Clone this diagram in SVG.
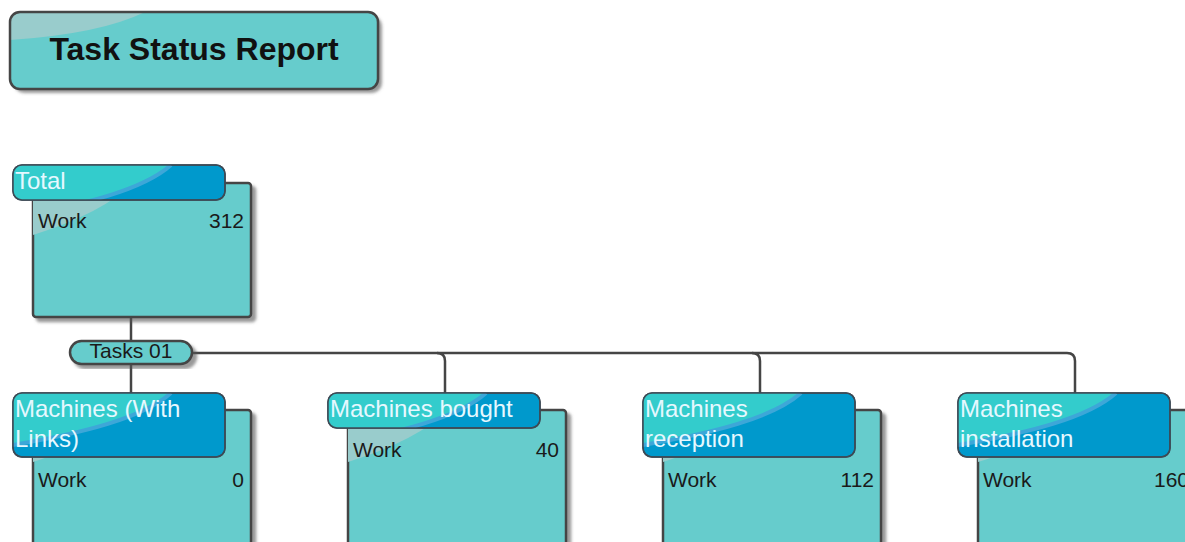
<svg xmlns="http://www.w3.org/2000/svg" width="1185" height="542" viewBox="0 0 1185 542">
  <defs>
    <filter id="shadow" x="-10%" y="-10%" width="130%" height="130%">
      <feDropShadow dx="4" dy="4" stdDeviation="1.5" flood-color="#555" flood-opacity="0.6"/>
    </filter>
    <clipPath id="titleClip"><rect x="0" y="0" width="368" height="77" rx="10"/></clipPath>
    <clipPath id="hdrShort"><rect x="0" y="0" width="212" height="35" rx="9"/></clipPath>
    <clipPath id="hdrTall"><rect x="0" y="0" width="212" height="64" rx="9"/></clipPath>
    <style>
      .body { fill: #66CCCC; stroke: #454545; stroke-width: 2.5; }
      .hdr { fill: #0099CC; stroke: #3d4a55; stroke-width: 1.5; }
      .hl { fill: #33CCCC; }
      .band { fill: none; stroke: #3da7d8; stroke-width: 4; }
      .gloss { fill: #99CCCC; }
      .htxt { font-family: "Liberation Sans", Arial, sans-serif; font-size: 24px; fill: #E6F8FF; }
      .btxt { font-family: "Liberation Sans", Arial, sans-serif; font-size: 21px; fill: #1a1a1a; }
      .conn { fill: none; stroke: #454545; stroke-width: 2.5; }
    </style>
  </defs>

  <!-- title banner -->
  <g id="title" transform="translate(10,12)">
    <rect x="0" y="0" width="368" height="77" rx="10" fill="#66CCCC" filter="url(#shadow)"/>
    <path d="M0,0 H135 Q90,22 0,28 Z" fill="#99CCCC" clip-path="url(#titleClip)"/>
    <rect x="0" y="0" width="368" height="77" rx="10" fill="none" stroke="#454545" stroke-width="2.5"/>
    <text x="184" y="48" text-anchor="middle" font-family="'Liberation Sans', Arial, sans-serif" font-size="32" font-weight="bold" fill="#111">Task Status Report</text>
  </g>

  <!-- connectors -->
  <g id="connectors">
    <path class="conn" d="M131,317 V341"/>
    <path class="conn" d="M131,364 V393"/>
    <path class="conn" d="M192,353 H437 Q445,353 445,361 V393"/>
    <path class="conn" d="M437,353 H752 Q760,353 760,361 V393"/>
    <path class="conn" d="M752,353 H1067 Q1075,353 1075,361 V393"/>
  </g>

  <!-- summary pill -->
  <g id="tasks01">
    <rect x="70" y="341" width="122" height="23" rx="11.5" fill="#66CCCC" stroke="#454545" stroke-width="2.5" filter="url(#shadow)"/>
    <text x="131" y="358" text-anchor="middle" class="btxt" font-size="20">Tasks 01</text>
  </g>

  <!-- Total -->
  <g id="total" transform="translate(13,165)">
    <rect class="body" x="20" y="18" width="218" height="134" rx="3" filter="url(#shadow)"/>
    <path class="gloss" d="M20,18 H120 Q90,48 20,70 Z"/>
    <rect class="hdr" x="0" y="0" width="212" height="35" rx="9"/>
    <g clip-path="url(#hdrShort)">
      <path class="hl" d="M0,0 H158 C130,25 70,40 0,52 Z"/>
      <path class="band" d="M158,0 C130,25 70,40 0,52"/>
    </g>
    <rect x="0" y="0" width="212" height="35" rx="9" fill="none" stroke="#3d4a55" stroke-width="1.5"/>
    <text class="htxt" x="2" y="24">Total</text>
    <text class="btxt" x="25" y="63">Work</text>
    <text class="btxt" x="231" y="63" text-anchor="end">312</text>
  </g>

  <!-- Machines (With Links) -->
  <g id="machines-links" transform="translate(13,393)">
    <rect class="body" x="20" y="17" width="218" height="160" rx="3" filter="url(#shadow)"/>
    <path class="gloss" d="M20,17 H120 Q90,47 20,69 Z"/>
    <rect class="hdr" x="0" y="0" width="212" height="64" rx="9"/>
    <g clip-path="url(#hdrTall)">
      <path class="hl" d="M0,0 H158 C130,25 70,40 0,52 Z"/>
      <path class="band" d="M158,0 C130,25 70,40 0,52"/>
    </g>
    <rect x="0" y="0" width="212" height="64" rx="9" fill="none" stroke="#3d4a55" stroke-width="1.5"/>
    <text class="htxt" x="2" y="24">Machines (With</text>
    <text class="htxt" x="2" y="54">Links)</text>
    <text class="btxt" x="25" y="94">Work</text>
    <text class="btxt" x="231" y="94" text-anchor="end">0</text>
  </g>

  <!-- Machines bought -->
  <g id="machines-bought" transform="translate(328,393)">
    <rect class="body" x="20" y="17" width="218" height="160" rx="3" filter="url(#shadow)"/>
    <path class="gloss" d="M20,17 H120 Q90,47 20,69 Z"/>
    <rect class="hdr" x="0" y="0" width="212" height="35" rx="9"/>
    <g clip-path="url(#hdrShort)">
      <path class="hl" d="M0,0 H158 C130,25 70,40 0,52 Z"/>
      <path class="band" d="M158,0 C130,25 70,40 0,52"/>
    </g>
    <rect x="0" y="0" width="212" height="35" rx="9" fill="none" stroke="#3d4a55" stroke-width="1.5"/>
    <text class="htxt" x="2" y="24">Machines bought</text>
    <text class="btxt" x="25" y="64">Work</text>
    <text class="btxt" x="231" y="64" text-anchor="end">40</text>
  </g>

  <!-- Machines reception -->
  <g id="machines-reception" transform="translate(643,393)">
    <rect class="body" x="20" y="17" width="218" height="160" rx="3" filter="url(#shadow)"/>
    <path class="gloss" d="M20,17 H120 Q90,47 20,69 Z"/>
    <rect class="hdr" x="0" y="0" width="212" height="64" rx="9"/>
    <g clip-path="url(#hdrTall)">
      <path class="hl" d="M0,0 H158 C130,25 70,40 0,52 Z"/>
      <path class="band" d="M158,0 C130,25 70,40 0,52"/>
    </g>
    <rect x="0" y="0" width="212" height="64" rx="9" fill="none" stroke="#3d4a55" stroke-width="1.5"/>
    <text class="htxt" x="2" y="24">Machines</text>
    <text class="htxt" x="2" y="54">reception</text>
    <text class="btxt" x="25" y="94">Work</text>
    <text class="btxt" x="231" y="94" text-anchor="end">112</text>
  </g>

  <!-- Machines installation -->
  <g id="machines-installation" transform="translate(958,393)">
    <rect class="body" x="20" y="17" width="218" height="160" rx="3" filter="url(#shadow)"/>
    <path class="gloss" d="M20,17 H120 Q90,47 20,69 Z"/>
    <rect class="hdr" x="0" y="0" width="212" height="64" rx="9"/>
    <g clip-path="url(#hdrTall)">
      <path class="hl" d="M0,0 H158 C130,25 70,40 0,52 Z"/>
      <path class="band" d="M158,0 C130,25 70,40 0,52"/>
    </g>
    <rect x="0" y="0" width="212" height="64" rx="9" fill="none" stroke="#3d4a55" stroke-width="1.5"/>
    <text class="htxt" x="2" y="24">Machines</text>
    <text class="htxt" x="2" y="54">installation</text>
    <text class="btxt" x="25" y="94">Work</text>
    <text class="btxt" x="231" y="94" text-anchor="end">160</text>
  </g>
</svg>
